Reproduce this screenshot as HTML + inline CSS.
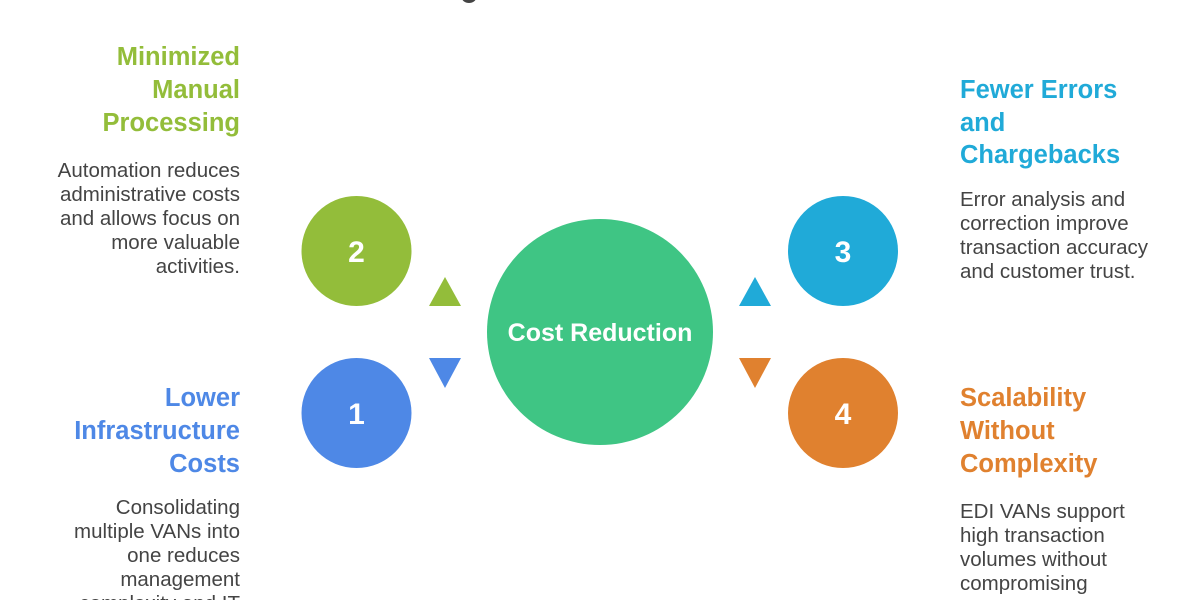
<!DOCTYPE html>
<html><head><meta charset="utf-8"><style>
html,body{margin:0;padding:0;background:#fff;}
svg{display:block;}
text{font-family:"Liberation Sans",sans-serif;}
.h{font-weight:bold;font-size:25.5px;}
.b{font-size:20.5px;fill:#444;}
</style></head><body>
<svg width="1200" height="600" viewBox="0 0 1200 600">
<ellipse cx="469" cy="-2" rx="7" ry="5" fill="#444"/>
<circle cx="600" cy="332" r="113" fill="#3fc584"/>
<text x="600" y="341" text-anchor="middle" font-size="25" font-weight="bold" fill="#fff" style="font-family:'Liberation Sans',sans-serif">Cost Reduction</text>
<circle cx="356.5" cy="251" r="55" fill="#93bd3a"/>
<circle cx="356.5" cy="413" r="55" fill="#4e88e6"/>
<circle cx="843" cy="251" r="55" fill="#20aad8"/>
<circle cx="843" cy="413" r="55" fill="#e0812f"/>
<g fill="#fff" font-size="30" font-weight="bold" text-anchor="middle">
<text x="356.5" y="262">2</text><text x="356.5" y="424">1</text>
<text x="843" y="262">3</text><text x="843" y="424">4</text></g>
<polygon points="429,306 461,306 445,277" fill="#93bd3a"/>
<polygon points="429,358 461,358 445,388" fill="#4e88e6"/>
<polygon points="739,306 771,306 755,277" fill="#20aad8"/>
<polygon points="739,358 771,358 755,388" fill="#e0812f"/>
<g class="h" fill="#93bd3a" text-anchor="end">
<text x="240" y="65">Minimized</text><text x="240" y="98">Manual</text><text x="240" y="131">Processing</text></g>
<g class="b" text-anchor="end">
<text x="240" y="177">Automation reduces</text><text x="240" y="201">administrative costs</text><text x="240" y="225">and allows focus on</text><text x="240" y="249">more valuable</text><text x="240" y="273">activities.</text></g>
<g class="h" fill="#4e88e6" text-anchor="end">
<text x="240" y="406">Lower</text><text x="240" y="439">Infrastructure</text><text x="240" y="472">Costs</text></g>
<g class="b" text-anchor="end">
<text x="240" y="514">Consolidating</text><text x="240" y="538">multiple VANs into</text><text x="240" y="562">one reduces</text><text x="240" y="586">management</text><text x="240" y="610">complexity and IT</text></g>
<g class="h" fill="#20aad8">
<text x="960" y="98">Fewer Errors</text><text x="960" y="131">and</text><text x="960" y="163">Chargebacks</text></g>
<g class="b">
<text x="960" y="206">Error analysis and</text><text x="960" y="230">correction improve</text><text x="960" y="254">transaction accuracy</text><text x="960" y="278">and customer trust.</text></g>
<g class="h" fill="#e0812f">
<text x="960" y="406">Scalability</text><text x="960" y="439">Without</text><text x="960" y="472">Complexity</text></g>
<g class="b">
<text x="960" y="518">EDI VANs support</text><text x="960" y="542">high transaction</text><text x="960" y="566">volumes without</text><text x="960" y="590">compromising</text></g>
</svg>
</body></html>
